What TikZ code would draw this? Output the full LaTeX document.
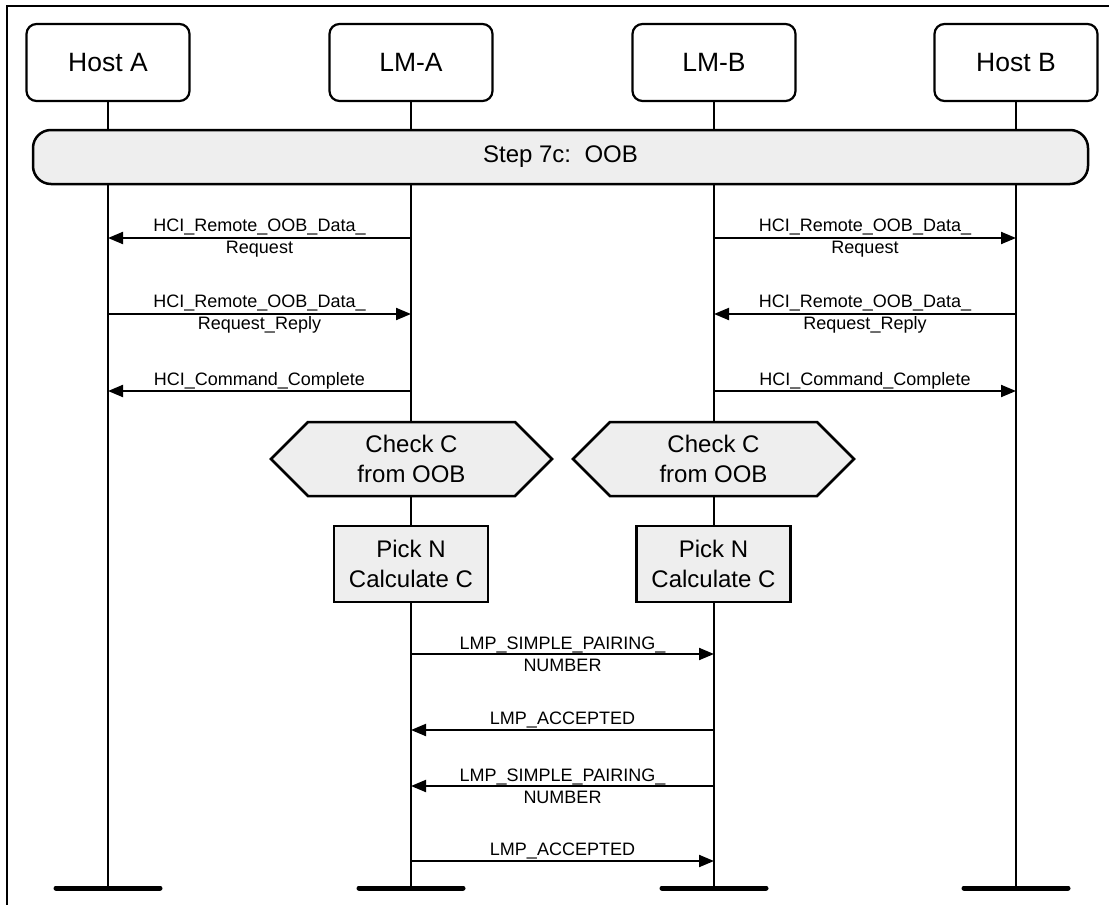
\documentclass[tikz,border=0pt]{standalone}
\usepackage{fontspec}
\setmainfont{Liberation Sans}
\usetikzlibrary{arrows.meta}
\definecolor{boxgray}{HTML}{EEEEEE}
\tikzset{
  head/.style={draw, line width=2.2pt, rounded corners=10pt, minimum width=163pt, minimum height=77pt, inner sep=0pt, font=\fontsize{26.5}{30}\selectfont},
  life/.style={line width=2.5pt},
  endbar/.style={line width=5pt, line cap=round},
  msg/.style={line width=2pt, -{Triangle[length=15pt,width=12pt]}},
  lbl/.style={font=\fontsize{18}{22}\selectfont, align=center, inner sep=0pt},
  lblup/.style={lbl, anchor=base},
  act/.style={draw, fill=boxgray, line width=2.5pt, minimum width=154pt, minimum height=76pt, align=center, inner sep=0pt, font=\fontsize{24}{30}\selectfont},
  hextext/.style={align=center, inner sep=0pt, font=\fontsize{24}{30}\selectfont},
  hexline/.style={draw, fill=boxgray, line width=2.5pt, line join=miter},
  stepbar/.style={draw, fill=boxgray, line width=2.5pt, rounded corners=18pt, minimum width=1055pt, minimum height=54pt, inner sep=0pt, font=\fontsize{24}{30}\selectfont},
}
\begin{document}
\begin{tikzpicture}[x=1pt,y=-1pt]
\useasboundingbox (0,0) rectangle (1109,905);
% frame
\coordinate (fbl) at (7,905);
\coordinate (ftl) at (7,5.5);
\coordinate (ftr) at (1109,5.5);
\draw[line width=2pt] (fbl) -- (ftl) -- (ftr);

% headers
\node[head] (hA) at (108,62.5) {Host A};
\node[head] (hLA) at (411,62.5) {LM-A};
\node[head] (hLB) at (714,62.5) {LM-B};
\node[head] (hB) at (1016,62.5) {Host B};

% lifeline ends
\coordinate (eA) at (108,888);
\coordinate (eLA) at (411,888);
\coordinate (eLB) at (714,888);
\coordinate (eB) at (1016,888);
\foreach \h/\e in {hA/eA,hLA/eLA,hLB/eLB,hB/eB}{
  \draw[life] (\h.south) -- (\e);
  \draw[endbar] ([xshift=-52pt]\e) -- ([xshift=52pt]\e);
}

% step bar
\node[stepbar] (step) at (560.5,157) {Step 7c:\ \ OOB};

% HCI messages
\foreach \n/\y in {1/238,2/314,3/391}{
  \coordinate (a\n) at (108,\y);
  \coordinate (la\n) at (411,\y);
  \coordinate (lb\n) at (714,\y);
  \coordinate (b\n) at (1016,\y);
}
\draw[msg] (la1) -- (a1) node[midway, lbl] (t1a) {HCI\_Remote\_OOB\_Data\_\\Request};
\draw[msg] (lb1) -- (b1) node[midway, lbl] (t1b) {HCI\_Remote\_OOB\_Data\_\\Request};
\draw[msg] (a2) -- (la2) node[midway, lbl] (t2a) {HCI\_Remote\_OOB\_Data\_\\Request\_Reply};
\draw[msg] (b2) -- (lb2) node[midway, lbl] (t2b) {HCI\_Remote\_OOB\_Data\_\\Request\_Reply};
\draw[msg] (la3) -- (a3) node[midway, lblup, yshift=6pt] (t3a) {HCI\_Command\_Complete};
\draw[msg] (lb3) -- (b3) node[midway, lblup, yshift=6pt] (t3b) {HCI\_Command\_Complete};

% hexagons
\foreach \nm/\cx in {hexA/411.5,hexB/713.5}{
  \draw[hexline] (\cx-140.5,459) -- (\cx-103.5,422) -- (\cx+103.5,422) -- (\cx+140.5,459) -- (\cx+103.5,496) -- (\cx-103.5,496) -- cycle;
  \node[hextext] (\nm) at (\cx,459) {Check C\\from OOB};
}

% action boxes
\node[act] (pA) at (411,564) {Pick N\\Calculate C};
\node[act] (pB) at (713.5,564) {Pick N\\Calculate C};

% LMP messages
\foreach \n/\y in {4/654,5/730,6/786,7/861}{
  \coordinate (la\n) at (411,\y);
  \coordinate (lb\n) at (714,\y);
}
\draw[msg] (la4) -- (lb4) node[midway, lbl] (t4) {LMP\_SIMPLE\_PAIRING\_\\NUMBER};
\draw[msg] (lb5) -- (la5) node[midway, lblup, yshift=6pt] (t5) {LMP\_ACCEPTED};
\draw[msg] (lb6) -- (la6) node[midway, lbl] (t6) {LMP\_SIMPLE\_PAIRING\_\\NUMBER};
\draw[msg] (la7) -- (lb7) node[midway, lblup, yshift=6pt] (t7) {LMP\_ACCEPTED};
\end{tikzpicture}
\end{document}
